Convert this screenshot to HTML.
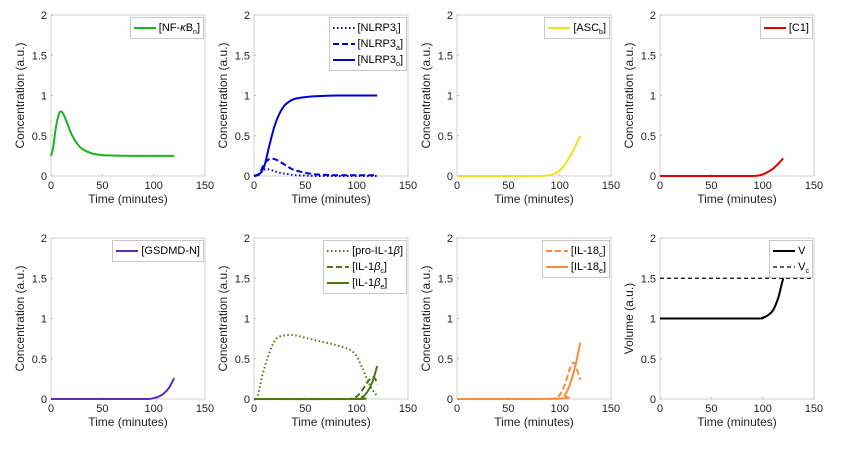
<!DOCTYPE html>
<html><head><meta charset="utf-8"><style>
body{margin:0;background:#fff;width:842px;height:458px;overflow:hidden;position:relative;font-family:"Liberation Sans",Arial,sans-serif}
svg{position:absolute;left:0;top:0}
.leg{position:absolute;background:#fff;border:1px solid #c8c8c8;font-size:11px;padding:2px 3px 2px 2px;line-height:16px;white-space:nowrap}
.leg div{display:flex;align-items:center;height:16px}
.leg svg{position:static;margin-right:2px}
sub{font-size:7px;vertical-align:-3px;line-height:0}
</style></head><body>
<svg id="chart" width="842" height="458"></svg>
<script>
// ---- data ----
const nfkbT=[0,2,5,8,10,12,15,20,25,30,40,50,60,80,100,120];
const nfkbV=[0.25,0.35,0.62,0.78,0.8,0.77,0.68,0.52,0.41,0.34,0.28,0.26,0.255,0.25,0.25,0.25];
const nlrpT=[0,5,10,15,20,25,30,35,40,50,60,80,100,120];
const nlrpO=[0,0.02,0.12,0.38,0.62,0.78,0.88,0.93,0.96,0.98,0.99,1.0,1.0,1.0];
const nlrpA=[0,0.03,0.15,0.21,0.21,0.18,0.14,0.1,0.07,0.04,0.02,0.01,0.01,0.01];
const nlrpI=[0,0.02,0.08,0.08,0.06,0.04,0.03,0.02,0.01,0.005,0,0,0,0];
const lateT=[0,60,80,90,95,100,105,110,115,120];
const ascV=[0,0,0,0.01,0.03,0.07,0.14,0.24,0.36,0.5];
const c1V=[0,0,0,0,0.005,0.02,0.05,0.09,0.15,0.22];
const gsdmdV=[0,0,0,0,0,0.01,0.03,0.07,0.14,0.26];
const proT=[0,3,10,20,30,40,50,60,70,80,90,95,100,105,110,115,120];
const proV=[0,0.01,0.38,0.72,0.79,0.79,0.76,0.73,0.7,0.67,0.63,0.6,0.53,0.4,0.25,0.12,0.04];
const il1cT=[0,90,95,100,105,110,115,118,120];
const il1cV=[0,0,0.005,0.03,0.1,0.2,0.27,0.25,0.18];
const il1eT=[0,100,105,110,115,120];
const il1eV=[0,0,0.02,0.08,0.2,0.41];
const il18cT=[0,90,95,100,105,110,113,116,120];
const il18cV=[0,0,0.01,0.05,0.18,0.38,0.45,0.4,0.24];
const il18eT=[0,100,105,110,115,120];
const il18eV=[0,0.005,0.05,0.18,0.4,0.7];
const volT=[0,90,100,105,110,115,118,120];
const volV=[1,1,1.01,1.04,1.1,1.25,1.4,1.5];
const vcT=[0,150];
const vcV=[1.5,1.5];
const xTicks=[0,50,100,150];
const yTicks=[0,0.5,1,1.5,2];
const yTickLabels=["0","0.5","1","1.5","2"];

const NS="http://www.w3.org/2000/svg";
const svg=document.getElementById('chart');
function mk(tag,attrs,parent){const e=document.createElementNS(NS,tag);for(const k in attrs)e.setAttribute(k,attrs[k]);(parent||svg).appendChild(e);return e;}
const colX=[51,254,457,660], W=154;
const rowY=[[176,15],[399,238]];
const DASH={solid:'',dot:'1.5,2.5',dash:'6,3',dash2:'4,3'};

const panels=[
 {name:'nfkb',c:0,r:0,ylab:'Concentration (a.u.)',series:[{n:'nfkb-line',t:nfkbT,v:nfkbV,col:'#1db31d',d:'solid',lab:'[NF-<i>κ</i>B<sub>n</sub>]'}]},
 {name:'nlrp3',c:1,r:0,ylab:'Concentration (a.u.)',series:[
   {n:'nlrp3-i-line',t:nlrpT,v:nlrpI,col:'#0000d8',d:'dot',lab:'[NLRP3<sub>i</sub>]'},
   {n:'nlrp3-a-line',t:nlrpT,v:nlrpA,col:'#0000d8',d:'dash',lab:'[NLRP3<sub>a</sub>]'},
   {n:'nlrp3-o-line',t:nlrpT,v:nlrpO,col:'#0000d8',d:'solid',lab:'[NLRP3<sub>o</sub>]'}]},
 {name:'asc',c:2,r:0,ylab:'Concentration (a.u.)',series:[{n:'asc-line',t:lateT,v:ascV,col:'#f3e01c',d:'solid',lab:'[ASC<sub>b</sub>]'}]},
 {name:'c1',c:3,r:0,ylab:'Concentration (a.u.)',series:[{n:'c1-line',t:lateT,v:c1V,col:'#e00000',d:'solid',lab:'[C1]'}]},
 {name:'gsdmd',c:0,r:1,ylab:'Concentration (a.u.)',series:[{n:'gsdmd-line',t:lateT,v:gsdmdV,col:'#5b2db3',d:'solid',lab:'[GSDMD-N]'}]},
 {name:'il1b',c:1,r:1,ylab:'Concentration (a.u.)',series:[
   {n:'pro-il1b-line',t:proT,v:proV,col:'#4d7a12',d:'dot',lab:'[pro-IL-1<i>β</i>]'},
   {n:'il1b-c-line',t:il1cT,v:il1cV,col:'#4d7a12',d:'dash',lab:'[IL-1<i>β</i><sub>c</sub>]'},
   {n:'il1b-e-line',t:il1eT,v:il1eV,col:'#4d7a12',d:'solid',lab:'[IL-1<i>β</i><sub>e</sub>]'}]},
 {name:'il18',c:2,r:1,ylab:'Concentration (a.u.)',series:[
   {n:'il18-c-line',t:il18cT,v:il18cV,col:'#ff8a3d',d:'dash',lab:'[IL-18<sub>c</sub>]'},
   {n:'il18-e-line',t:il18eT,v:il18eV,col:'#ff8a3d',d:'solid',lab:'[IL-18<sub>e</sub>]'}]},
 {name:'volume',c:3,r:1,ylab:'Volume (a.u.)',series:[
   {n:'v-line',t:volT,v:volV,col:'#000',d:'solid',lab:'V'},
   {n:'vc-line',t:vcT,v:vcV,col:'#000',d:'dash2',lab:'V<sub>c</sub>',thin:true}]},
];

function pathFor(px){
  let d='M'+px[0][0].toFixed(2)+','+px[0][1].toFixed(2);
  for(let i=0;i<px.length-1;i++){
    const p0=px[Math.max(0,i-1)],p1=px[i],p2=px[i+1],p3=px[Math.min(px.length-1,i+2)];
    const c1=[p1[0]+(p2[0]-p0[0])/6,p1[1]+(p2[1]-p0[1])/6];
    const c2=[p2[0]-(p3[0]-p1[0])/6,p2[1]-(p3[1]-p1[1])/6];
    d+=' C'+c1.map(v=>v.toFixed(2))+' '+c2.map(v=>v.toFixed(2))+' '+p2[0].toFixed(2)+','+p2[1].toFixed(2);
  }
  return d;
}

panels.forEach(p=>{
  const x0=colX[p.c], y0=rowY[p.r][0], y1=rowY[p.r][1];
  const sx=t=>x0+t/150*W, sy=v=>y0-(v/2)*(y0-y1);
  const g=mk('g',{});
  
  
  const box=mk('rect',{x:x0,y:y1,width:W,height:y0-y1,fill:'none',stroke:'#d0d0d0','stroke-width':1},g);
  
  
  xTicks.forEach(t=>{
    mk('line',{x1:sx(t),x2:sx(t),y1:y0,y2:y0-2,stroke:'#bbb'},g);
    const tx=mk('text',{x:sx(t),y:y0+13,'font-size':11,'text-anchor':'middle',fill:'#222'},g);
    tx.textContent=t;
    
    
  });
  yTicks.forEach((v,i)=>{
    mk('line',{x1:x0,x2:x0+2,y1:sy(v),y2:sy(v),stroke:'#bbb'},g);
    const ty=mk('text',{x:x0-4,y:sy(v)+4,'font-size':11,'text-anchor':'end',fill:'#222'},g);
    ty.textContent=yTickLabels[i];
    
    
  });
  const xl=mk('text',{x:x0+W/2,y:y0+27,'font-size':12,'text-anchor':'middle',fill:'#222'},g);
  xl.textContent='Time (minutes)';
  
  
  const yl=mk('text',{x:0,y:0,'font-size':12,'text-anchor':'middle',fill:'#222',transform:`translate(${x0-27},${(y0+y1)/2}) rotate(-90)`},g);
  yl.textContent=p.ylab;
  
  
  p.series.forEach(s=>{
    const px=s.t.map((t,i)=>[sx(t),sy(s.v[i])]);
    const a={d:pathFor(px),fill:'none',stroke:s.col,'stroke-width':s.thin?1.2:2};
    if(DASH[s.d])a['stroke-dasharray']=DASH[s.d];
    const l=mk('path',a,g);
    
    
  });
  const leg=document.createElement('div');
  leg.className='leg';
  
  
  leg.style.right=(842-(x0+W)+1)+'px';
  leg.style.top=(y1+2)+'px';
  p.series.forEach(s=>{
    const row=document.createElement('div');
    
    
    const dash=DASH[s.d]?` stroke-dasharray="${DASH[s.d]}"`:'';
    row.innerHTML=`<svg width="24" height="6"><line x1="1" y1="3" x2="23" y2="3" stroke="${s.col}" stroke-width="${s.thin?1.2:2}"${dash}/></svg><span>${s.lab}</span>`;
    leg.appendChild(row);
  });
  document.body.appendChild(leg);
});
</script>
</body></html>
